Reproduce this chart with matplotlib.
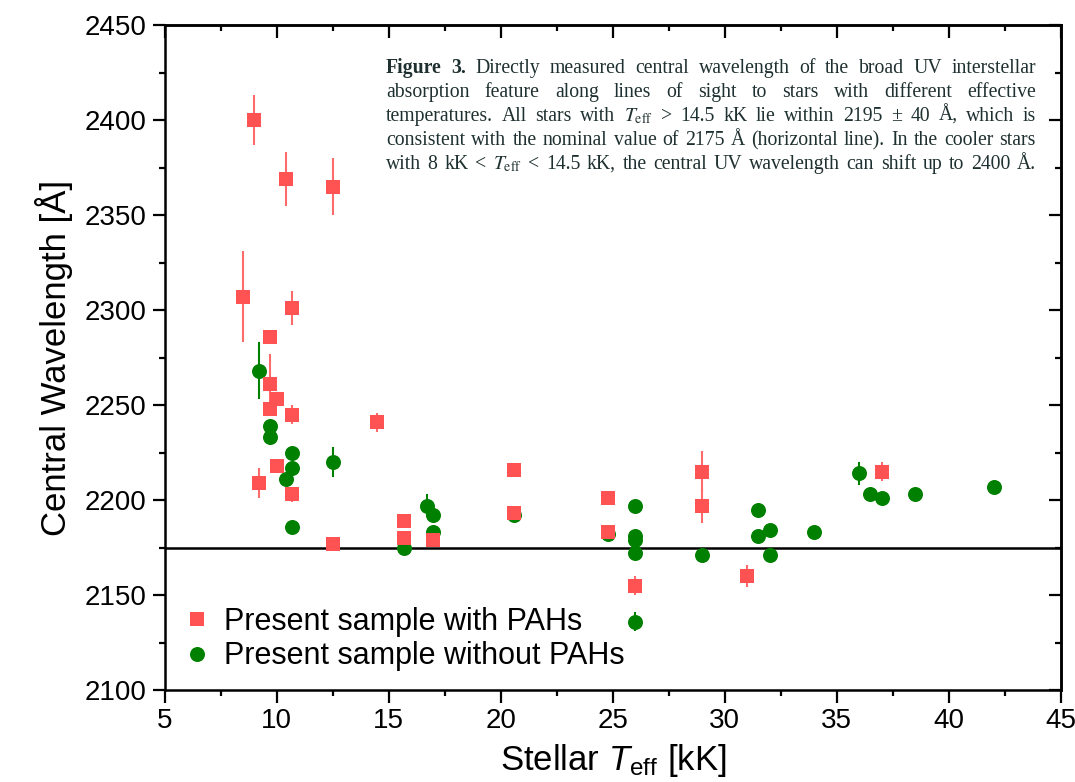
import matplotlib
matplotlib.use("Agg")
import matplotlib.pyplot as plt
from matplotlib.lines import Line2D

# Present sample with PAHs (red squares)
pah_T = [9.0, 10.4, 12.5, 8.5, 10.7, 9.7, 9.7, 10.0, 9.7, 10.7, 10.0, 9.2, 10.7, 12.5,
         14.5, 15.7, 15.7, 17.0, 20.6, 20.6, 24.8, 24.8, 26.0, 29.0, 29.0, 31.0, 37.0]
pah_wl = [2400, 2369, 2365, 2307, 2301, 2286, 2261, 2253, 2248, 2245, 2218, 2209, 2203, 2177,
          2241, 2189, 2180, 2179, 2216, 2193, 2201, 2183, 2155, 2215, 2197, 2160, 2215]
pah_err = [13, 14, 15, 24, 9, 0, 16, 0, 0, 5, 0, 8, 4, 0,
           5, 0, 0, 0, 0, 0, 0, 0, 5, 11, 9, 6, 5]

# Present sample without PAHs (green circles)
nop_T = [9.2, 9.7, 9.7, 10.7, 10.7, 10.4, 10.7, 12.5, 15.7, 16.7, 17.0, 17.0, 20.6, 24.8,
         26.0, 26.0, 26.0, 26.0, 26.0, 29.0, 31.5, 31.5, 32.0, 32.0, 34.0, 36.0, 36.5, 37.0,
         38.5, 42.0]
nop_wl = [2268, 2239, 2233, 2225, 2217, 2211, 2186, 2220, 2175, 2197, 2192, 2183, 2192, 2182,
          2197, 2181, 2179, 2172, 2136, 2171, 2195, 2181, 2184, 2171, 2183, 2214, 2203, 2201,
          2203, 2207]
nop_err = [15, 0, 4, 0, 0, 0, 0, 8, 0, 6, 0, 0, 0, 0,
           0, 0, 0, 0, 5, 0, 0, 0, 0, 0, 0, 6, 0, 0,
           0, 0]

nominal_wl = 2175
x_ticks = [5, 10, 15, 20, 25, 30, 35, 40, 45]
y_ticks = [2100, 2150, 2200, 2250, 2300, 2350, 2400, 2450]

caption_lines = [
    "Figure 3. Directly measured central wavelength of the broad UV interstellar",
    "absorption feature along lines of sight to stars with different effective",
    r"temperatures. All stars with $T_\mathrm{eff}$ > 14.5 kK lie within 2195 ± 40 Å, which is",
    "consistent with the nominal value of 2175 Å (horizontal line). In the cooler stars",
    r"with 8 kK < $T_\mathrm{eff}$ < 14.5 kK, the central UV wavelength can shift up to 2400 Å.",
]

W, H = 1075, 782
red = "#FF5252"
green = "#008000"
cap_col = "#1f3030"

plt.rcParams["font.family"] = ["Liberation Sans", "DejaVu Sans"]
plt.rcParams["mathtext.fontset"] = "custom"
plt.rcParams["mathtext.rm"] = "Liberation Sans"
plt.rcParams["mathtext.it"] = "Liberation Sans:italic"

fig = plt.figure(figsize=(W / 100, H / 100), dpi=100)
ax = fig.add_axes([164.5 / W, 1 - 690 / H, (1061 - 164.5) / W, (690 - 25) / H])

# nominal line
ax.axhline(nominal_wl, color="black", lw=1.8, zorder=1)

ax.errorbar(nop_T, nop_wl, yerr=nop_err, fmt="o", color=green, ms=10.8, mew=0,
            elinewidth=1.5, capsize=0, zorder=2)
ax.errorbar(pah_T, pah_wl, yerr=pah_err, fmt="s", color=red, ms=9.5, mew=0,
            elinewidth=1.5, ecolor="#FF6A6A", capsize=0, zorder=3)

ax.set_xlim(5, 45)
ax.set_ylim(2100, 2450)
ax.set_xticks(x_ticks)
ax.set_yticks(y_ticks)
ax.set_xticks([t + 2.5 for t in x_ticks[:-1]], minor=True)
ax.set_yticks([t + 25 for t in y_ticks[:-1]], minor=True)
ax.tick_params(which="major", direction="out", length=9, width=1.6, labelsize=20, pad=4)
ax.tick_params(which="minor", direction="out", length=4.5, width=1.6)
for s in ax.spines.values():
    s.set_linewidth(1.8)

# top and right axes with inward ticks
top = ax.secondary_xaxis("top")
top.set_xticks(x_ticks)
top.set_xticks([t + 2.5 for t in x_ticks[:-1]], minor=True)
top.tick_params(which="major", direction="in", length=9, width=1.6, labeltop=False)
top.tick_params(which="minor", direction="in", length=4.5, width=1.6)
right = ax.secondary_yaxis("right")
right.set_yticks(y_ticks)
right.set_yticks([t + 25 for t in y_ticks[:-1]], minor=True)
right.tick_params(which="major", direction="in", length=9, width=1.6, labelright=False)
right.tick_params(which="minor", direction="in", length=4.5, width=1.6)
for sec in (top, right):
    for s in sec.spines.values():
        s.set_linewidth(1.8)

ax.set_xlabel(r"Stellar $T_\mathrm{eff}$ [kK]", fontsize=25, labelpad=6)
ax.set_ylabel("Central Wavelength [Å]", fontsize=25, labelpad=8)

handles = [
    Line2D([], [], marker="s", ls="none", color=red, ms=9.5, mew=0),
    Line2D([], [], marker="o", ls="none", color=green, ms=10.8, mew=0),
]
ax.legend(handles, ["Present sample with PAHs", "Present sample without PAHs"],
          loc="center left", bbox_to_anchor=((182 - 164.5) / 896.5, (690 - 639) / 665),
          frameon=False, fontsize=22, borderaxespad=0, borderpad=0,
          handlelength=1.0, handletextpad=0.36, labelspacing=0.15)

# justified caption text block
renderer = fig.canvas.get_renderer()
x_left, x_right = 386, 1036
for i, line in enumerate(caption_lines):
    yb = 73 + 24 * i
    words = line.split(" ")
    objs = []
    for j, w in enumerate(words):
        bold = (i == 0 and j < 2)
        t = fig.text(0, 1 - yb / H, w, fontsize=14.2, family="Liberation Serif",
                     color=cap_col, math_fontfamily="stix", va="baseline", ha="left",
                     fontweight="bold" if bold else "normal")
        objs.append(t)
    widths = [t.get_window_extent(renderer).width for t in objs]
    gap = (x_right - x_left - sum(widths)) / (len(objs) - 1)
    x = x_left
    for t, wd in zip(objs, widths):
        t.set_x(x / W)
        x += wd + gap

fig.savefig("out.png", dpi=100)
